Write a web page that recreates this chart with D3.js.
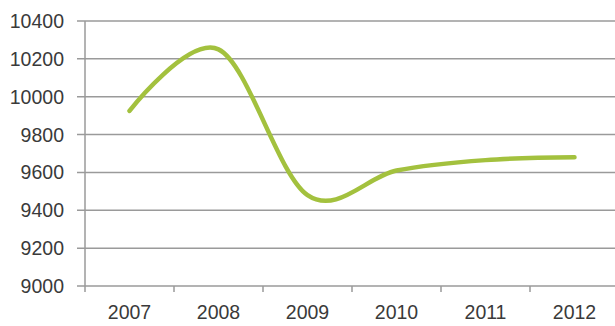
<!DOCTYPE html>
<html>
<head>
<meta charset="utf-8">
<script src="https://cdnjs.cloudflare.com/ajax/libs/d3/7.8.5/d3.min.js"></script>
<style>
  html, body { margin: 0; padding: 0; background: #fff; }
  svg { display: block; }
</style>
</head>
<body>
<svg id="chart" width="615" height="326"></svg>
<script>
const categories = ["2007", "2008", "2009", "2010", "2011", "2012"];
const values = [9925, 10250, 9480, 9610, 9665, 9680];
const yTicks = [9000, 9200, 9400, 9600, 9800, 10000, 10200, 10400];

(function () {
const svg = d3.select("#chart");
const mLeft = 85, mRight = 619, mTop = 21, mBottom = 286;

const x = d3.scaleBand().domain(categories).range([mLeft, mRight]).padding(0);
const y = d3.scaleLinear().domain([9000, 10400]).range([mBottom, mTop]);

// gridlines
svg.append("g")
  .selectAll("line")
  .data(yTicks)
  .join("line")
  .attr("x1", mLeft - 8)
  .attr("x2", 615)
  .attr("y1", d => y(d))
  .attr("y2", d => y(d))
  .attr("stroke", "#9a9a9a")
  .attr("stroke-width", 1.5);

// y axis line
svg.append("line")
  .attr("x1", mLeft).attr("x2", mLeft)
  .attr("y1", mTop).attr("y2", mBottom + 6)
  .attr("stroke", "#9a9a9a")
  .attr("stroke-width", 1.5);

// x ticks
svg.append("g")
  .selectAll("line")
  .data(categories.slice(1))
  .join("line")
  .attr("x1", d => x(d)).attr("x2", d => x(d))
  .attr("y1", mBottom).attr("y2", mBottom + 6)
  .attr("stroke", "#9a9a9a")
  .attr("stroke-width", 1.5);

// y labels
svg.append("g")
  .selectAll("text")
  .data(yTicks)
  .join("text")
  .attr("x", 64)
  .attr("y", d => y(d))
  .attr("dy", "0.36em")
  .attr("text-anchor", "end")
  .attr("font-family", "Liberation Sans, Arial, sans-serif")
  .attr("font-size", 19.5)
  .attr("fill", "#3a3a3a")
  .text(d => d);

// x labels
svg.append("g")
  .selectAll("text")
  .data(categories)
  .join("text")
  .attr("x", d => x(d) + x.bandwidth() / 2)
  .attr("y", 319)
  .attr("text-anchor", "middle")
  .attr("font-family", "Liberation Sans, Arial, sans-serif")
  .attr("font-size", 19.5)
  .attr("fill", "#3a3a3a")
  .text(d => d);

// line
const line = d3.line()
  .x((d, i) => x(categories[i]) + x.bandwidth() / 2)
  .y(d => y(d))
  .curve(d3.curveCardinal.tension(0));

svg.append("path")
  .datum(values)
  .attr("d", line)
  .attr("fill", "none")
  .attr("stroke", "#a3c13e")
  .attr("stroke-width", 4.5)
  .attr("stroke-linecap", "round")
  .attr("stroke-linejoin", "round");
})();
</script>
</body>
</html>
